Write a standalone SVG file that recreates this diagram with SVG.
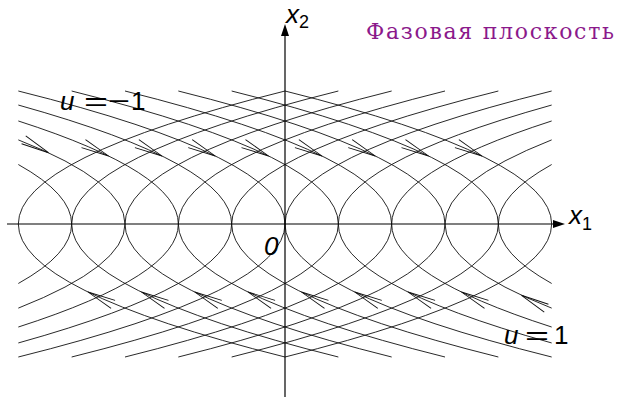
<svg xmlns="http://www.w3.org/2000/svg" width="618" height="397" viewBox="0 0 618 397">
<style>
.crv{fill:none;stroke:#111;stroke-width:0.9}
.axis{fill:none;stroke:#000;stroke-width:1.2}
.ah{fill:#000;stroke:none}
.arr{fill:none;stroke:#111;stroke-width:0.9}
.lbl{font-family:"Liberation Sans",Arial,sans-serif;font-style:italic;font-size:26px;fill:#000}
.up{font-family:"Liberation Sans",Arial,sans-serif;font-size:26px;fill:#000}
.sub{font-style:normal;font-size:18px}
.ttl{font-family:"DejaVu Serif","Liberation Serif",serif;font-size:22px;fill:#8B198B}
</style>
<defs>
<path id="a" class="arr" d="M-28,-4.5 L0,0 L-28,4.5"/>
</defs>
<rect width="618" height="397" fill="#fff"/>
<g id="curves-right">
<path class="crv" d="M285,91 Q-248.333,224 285,357"/>
<path class="crv" d="M338.333,91 Q-195,224 338.333,357"/>
<path class="crv" d="M391.667,91 Q-141.667,224 391.667,357"/>
<path class="crv" d="M445,91 Q-88.333,224 445,357"/>
<path class="crv" d="M498.333,91 Q-35,224 498.333,357"/>
<path class="crv" d="M551.667,91 Q18.333,224 551.667,357"/>
<path class="crv" d="M551.667,105.04 Q125,224 551.667,342.96"/>
<path class="crv" d="M551.667,120.98 Q231.667,224 551.667,327.02"/>
<path class="crv" d="M551.667,139.88 Q338.333,224 551.667,308.12"/>
<path class="crv" d="M551.667,164.52 Q445,224 551.667,283.48"/>
</g>
<g id="curves-left">
<path class="crv" d="M285,91 Q818.333,224 285,357"/>
<path class="crv" d="M231.667,91 Q765,224 231.667,357"/>
<path class="crv" d="M178.333,91 Q711.667,224 178.333,357"/>
<path class="crv" d="M125,91 Q658.333,224 125,357"/>
<path class="crv" d="M71.667,91 Q605,224 71.667,357"/>
<path class="crv" d="M18.333,91 Q551.667,224 18.333,357"/>
<path class="crv" d="M18.333,105.04 Q445,224 18.333,342.96"/>
<path class="crv" d="M18.333,120.98 Q338.333,224 18.333,327.02"/>
<path class="crv" d="M18.333,139.88 Q231.667,224 18.333,308.12"/>
<path class="crv" d="M18.333,164.52 Q125,224 18.333,283.48"/>
</g>
<g id="arrows-top">
<use href="#a" transform="translate(48.5,152.7) rotate(27.5)"/>
<use href="#a" transform="translate(108.6,156) rotate(26.35)"/>
<use href="#a" transform="translate(162,156) rotate(26.35)"/>
<use href="#a" transform="translate(215.3,156) rotate(26.35)"/>
<use href="#a" transform="translate(268.6,156) rotate(26.35)"/>
<use href="#a" transform="translate(322,156) rotate(26.35)"/>
<use href="#a" transform="translate(375.3,156) rotate(26.35)"/>
<use href="#a" transform="translate(428.6,156) rotate(26.35)"/>
<use href="#a" transform="translate(482,156) rotate(26.35)"/>
</g>
<g id="arrows-bottom">
<use href="#a" transform="translate(88,292) rotate(206.35)"/>
<use href="#a" transform="translate(141.4,292) rotate(206.35)"/>
<use href="#a" transform="translate(194.7,292) rotate(206.35)"/>
<use href="#a" transform="translate(248,292) rotate(206.35)"/>
<use href="#a" transform="translate(301.4,292) rotate(206.35)"/>
<use href="#a" transform="translate(354.7,292) rotate(206.35)"/>
<use href="#a" transform="translate(408,292) rotate(206.35)"/>
<use href="#a" transform="translate(461.4,292) rotate(206.35)"/>
<use href="#a" transform="translate(521.5,295.3) rotate(207.5)"/>
</g>
<g id="axis-x1">
<line class="axis" x1="7" y1="224" x2="556" y2="224"/>
<path class="ah" d="M565,224 L553,220 L553,228 Z"/>
<text class="lbl" x="569" y="223.5">x<tspan class="sub" dy="6.5">1</tspan></text>
</g>
<g id="axis-x2">
<line class="axis" x1="285" y1="397" x2="285" y2="33"/>
<path class="ah" d="M285,24 L281,36 L289,36 Z"/>
<text class="lbl" x="286" y="23">x<tspan class="sub" dy="5">2</tspan></text>
</g>
<g id="origin"><text class="lbl" x="264" y="255">0</text></g>
<g id="label-um1">
<text class="lbl" x="60" y="110">u</text>
<text class="up" x="84" y="110" textLength="24" lengthAdjust="spacingAndGlyphs">=</text>
<text class="up" x="108" y="110" textLength="22" lengthAdjust="spacingAndGlyphs">−</text>
<text class="up" x="131" y="110">1</text>
</g>
<g id="label-u1">
<text class="lbl" x="504" y="343.5">u</text>
<text class="up" x="525" y="343.5" textLength="24" lengthAdjust="spacingAndGlyphs">=</text>
<text class="up" x="554" y="343.5">1</text>
</g>
<g id="title"><text class="ttl" x="366" y="38.5" textLength="248">Фазовая плоскость</text></g>
</svg>
